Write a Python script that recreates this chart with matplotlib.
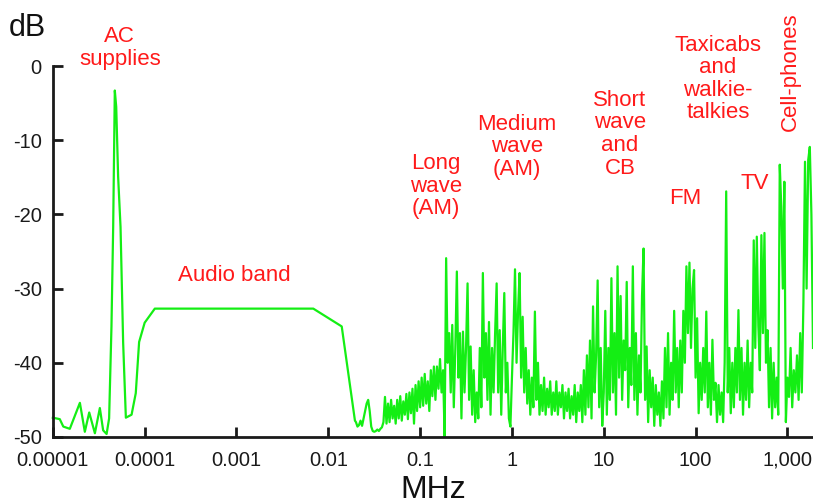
import numpy as np
import matplotlib.pyplot as plt

plt.rcParams['font.family'] = ['Liberation Sans', 'DejaVu Sans']

GREEN = '#14ee14'
RED = '#ff1a1a'

# smooth low-frequency part: AC peak and audio band (MHz, dB)
low_freq = [1e-5, 1.19e-5, 1.3e-5, 1.53e-5, 1.97e-5, 2.23e-5, 2.49e-5, 2.87e-5,
            3.25e-5, 3.53e-5, 3.85e-5, 4.1e-5, 4.35e-5, 4.54e-5, 4.73e-5, 4.9e-5,
            5.14e-5, 5.46e-5, 5.83e-5, 6.24e-5, 7.2e-5, 8.0e-5, 8.7e-5, 1.0e-4,
            1.29e-4, 6.86e-3, 1.4e-2, 1.95e-2]
low_db = [-47.4, -47.6, -48.6, -48.9, -45.4, -49.3, -46.7, -49.5,
          -46.1, -49.1, -49.6, -47.5, -35.1, -21.7, -3.3, -5.5,
          -14.9, -21.7, -37.3, -47.4, -47.0, -44.1, -37.2, -34.6,
          -32.7, -32.7, -35.1, -47.8]

# noisy radio part, one list per frequency band (read left to right)
db_002_01 = [-48.0, -48.6, -48.4, -47.8, -48.5, -47.5, -46.5, -45.5, -45.0, -46.5,
             -48.6, -49.2, -49.3, -49.2, -49.0, -49.2, -48.9, -48.7, -48.0, -44.6,
             -48.2, -45.5, -48.0, -45.0, -47.5, -45.8, -48.2, -45.0, -47.5, -44.5,
             -47.8, -45.2, -47.0, -44.2, -47.6, -44.0, -46.8, -43.5, -48.2, -43.0,
             -46.5, -42.5]
db_01_1 = [-46.0, -42.0, -45.8, -41.5, -45.5, -42.5, -46.5, -41.0, -44.5, -40.5,
           -45.0, -40.5, -43.5, -39.5, -44.0, -41.0, -50.0, -25.9, -40.0, -36.0,
           -44.0, -34.9, -46.0, -38.0, -27.7, -42.0, -36.0, -47.5, -35.8, -44.0,
           -38.0, -29.3, -45.0, -37.8, -47.0, -41.0, -48.0, -44.0, -47.5, -38.0,
           -46.0, -27.9, -42.0, -36.0, -45.0, -34.5, -47.0, -38.0, -44.0, -36.0,
           -29.3, -44.0, -35.6, -47.0, -38.0, -30.6, -44.0, -40.0, -47.5, -48.6]
db_1_10 = [-42.0, -36.0, -27.4, -40.0, -33.0, -27.9, -42.0, -33.8, -44.0, -38.0,
           -45.5, -41.0, -47.0, -42.0, -46.0, -33.1, -45.0, -40.0, -47.0, -43.0,
           -46.5, -42.0, -47.0, -43.5, -46.0, -42.5, -47.0, -44.0, -46.5, -42.5,
           -47.0, -44.0, -46.0, -43.0, -47.5, -44.0, -46.5, -43.5, -47.5, -44.5,
           -47.0, -43.0, -48.0, -44.0, -46.5, -43.0, -48.0, -41.0, -47.0, -39.0,
           -46.0, -37.0, -47.5, -32.4, -44.0, -39.0, -28.9, -46.0, -38.0, -48.5]
db_10_100 = [-44.0, -33.0, -47.0, -38.0, -45.0, -28.6, -44.0, -36.0, -47.0, -27.0,
             -42.0, -31.0, -45.0, -37.0, -41.0, -29.1, -46.0, -38.0, -43.0, -27.0,
             -45.0, -36.0, -47.0, -39.0, -44.0, -31.0, -24.6, -45.0, -37.8, -48.0,
             -41.0, -46.0, -42.0, -48.5, -43.0, -47.0, -44.0, -48.5, -42.5, -47.5,
             -38.0, -46.0, -36.0, -47.0, -40.0, -45.0, -33.0, -44.0, -38.0, -46.0,
             -37.0, -44.0, -33.0, -40.0, -27.0, -36.0, -26.5, -38.0, -30.0, -27.5]
db_100_1000 = [-42.0, -34.0, -46.8, -40.0, -45.0, -38.0, -44.0, -33.1, -46.0, -40.0,
               -47.0, -36.9, -45.0, -42.7, -48.0, -43.0, -47.0, -44.0, -48.0, -40.0,
               -16.9, -44.0, -38.0, -46.8, -40.0, -46.0, -38.0, -44.0, -32.9, -45.0,
               -38.0, -47.0, -40.0, -45.0, -37.0, -46.0, -40.0, -44.0, -23.5, -38.0,
               -23.0, -35.0, -41.0, -22.8, -36.0, -22.5, -40.0, -35.6, -46.0, -38.0,
               -47.5, -40.0, -46.0, -42.0, -47.0, -13.3, -19.0, -30.0, -15.6, -48.0]
db_1000_1900 = [-42.0, -44.6, -38.0, -46.0, -41.0, -44.0, -39.0, -45.0, -36.0, -44.0,
                -32.0, -12.9, -30.0, -12.7, -10.9, -20.0, -38.0]

bands = [(0.02, 0.1, db_002_01), (0.1, 1, db_01_1), (1, 10, db_1_10),
         (10, 100, db_10_100), (100, 1000, db_100_1000)]

x_ticks = [1e-5, 1e-4, 1e-3, 1e-2, 1e-1, 1, 10, 100, 1000]
x_labels = ['0.00001', '0.0001', '0.001', '0.01', '0.1', '1', '10', '100', '1,000']
y_ticks = [0, -10, -20, -30, -40, -50]
y_labels = ['0', '-10', '-20', '-30', '-40', '-50']

# annotations: text, freq, dB, rotation
notes = [('AC\nsupplies', 5.37e-5, 2.4, 0),
         ('Audio band', 9.4e-4, -28.2, 0),
         ('Long\nwave\n(AM)', 0.149, -16.2, 0),
         ('Medium\nwave\n(AM)', 1.13, -10.9, 0),
         ('Short\nwave\nand\nCB', 15.0, -9.2, 0),
         ('FM', 76.7, -17.8, 0),
         ('Taxicabs\nand\nwalkie-\ntalkies', 175, -1.75, 0),
         ('TV', 444, -15.8, 0),
         ('Cell-phones', 1067, -0.8, 90)]


def main():
	freq = list(low_freq)
	db = list(low_db)
	for lo, hi, vals in bands:
		freq += list(np.geomspace(lo, hi, len(vals), endpoint=False))
		db += vals
	freq += list(np.geomspace(1000, 1900, len(db_1000_1900)))
	db += db_1000_1900

	fig = plt.figure(figsize=(8.13, 5.04), dpi=100)
	ax = fig.add_axes([0.065, 0.133, 0.935, 0.736])
	ax.plot(freq, db, color=GREEN, lw=1.6, clip_on=False)

	ax.set_xscale('log')
	ax.set_xlim(1e-5, 1900)
	ax.set_ylim(-50, 0)
	ax.set_xticks(x_ticks)
	ax.set_xticklabels(x_labels)
	ax.xaxis.set_minor_locator(plt.NullLocator())
	ax.set_yticks(y_ticks)
	ax.set_yticklabels(y_labels)

	for s in ['top', 'right']:
		ax.spines[s].set_visible(False)
	for s in ['left', 'bottom']:
		ax.spines[s].set_linewidth(2)
		ax.spines[s].set_color('#1a1a1a')
	ax.tick_params(direction='in', length=7, width=2, color='#1a1a1a',
	               labelsize=14.5, labelcolor='#1a1a1a')
	ax.tick_params(axis='x', pad=10)
	ax.tick_params(axis='y', pad=8)

	ax.set_xlabel('MHz', fontsize=23, color='#111111', labelpad=4)
	fig.text(0.034, 0.944, 'dB', fontsize=22, color='#111111', ha='center', va='center')

	for txt, fx, fy, rot in notes:
		ax.text(fx, fy, txt, color=RED, fontsize=16, ha='center', va='center',
		        rotation=rot, linespacing=1.1)

	fig.savefig('out.png', dpi=100)


if __name__ == '__main__':
	main()
